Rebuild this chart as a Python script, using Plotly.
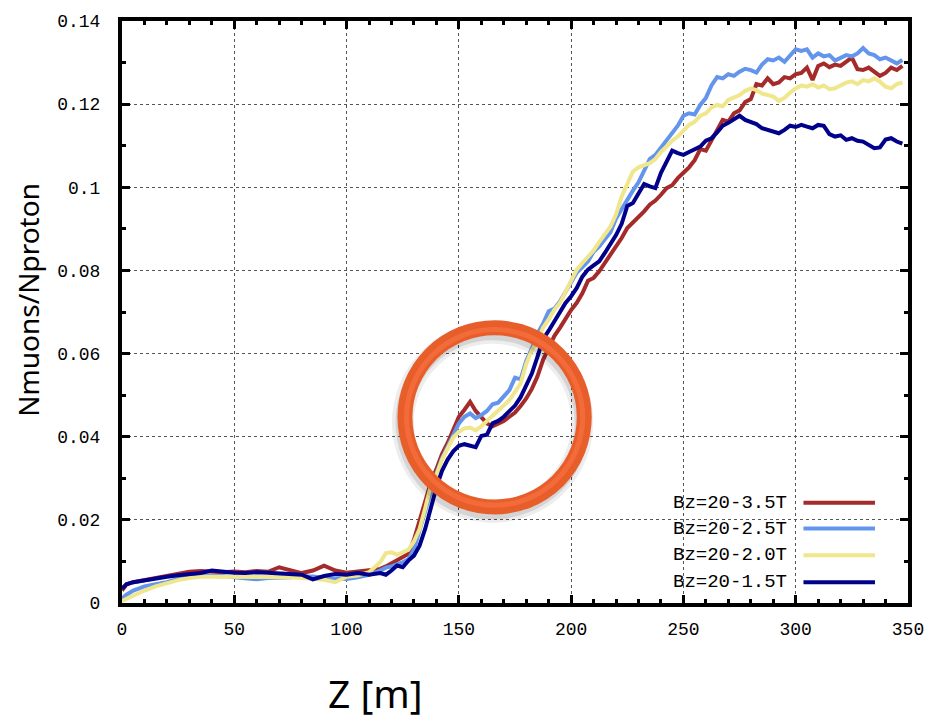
import plotly.graph_objects as go

# ---------------- data ----------------
Z_LOW = [0, 2, 5, 10, 15, 20, 25, 30, 35, 40, 45, 50, 55, 60, 65, 70, 75, 80, 85, 90,
         95, 100, 105, 110]
Z_HIGH = [115, 117.5, 120, 122.5, 125, 127.5, 130, 132.5, 135, 137.5,
          140, 142.5, 145, 147.5, 150, 152.5, 155, 157.5, 160, 162.5,
          165, 167.5, 170, 172.5, 175, 177.5, 180, 182.5, 185, 187.5,
          190, 192.5, 195, 197.5, 200, 202.5, 205, 207.5, 210, 212.5,
          215, 217.5, 220, 222.5, 225, 227.5, 230, 232.5, 235, 237.5,
          240, 242.5, 245, 247.5, 250, 252.5, 255, 257.5, 260, 262.5,
          265, 267.5, 270, 272.5, 275, 277.5, 280, 282.5, 285, 287.5,
          290, 292.5, 295, 297.5, 300, 302.5, 305, 307.5, 310, 312.5,
          315, 317.5, 320, 322.5, 325, 327.5, 330, 332.5, 335, 337.5,
          340, 342.5, 345, 347.5]
Z = Z_LOW + Z_HIGH

NAMES = ["Bz=20-3.5T", "Bz=20-2.5T", "Bz=20-2.0T", "Bz=20-1.5T"]
COLORS = ["#A52A2A", "#6495ED", "#F0E68C", "#00008B"]

B35 = [0.003, 0.0045, 0.005, 0.0055, 0.0058, 0.0063, 0.007, 0.0075, 0.0077, 0.0076,
       0.0074, 0.0076, 0.0074, 0.0077, 0.0075, 0.0086, 0.0078, 0.0072, 0.0078, 0.009,
       0.0078, 0.0073, 0.0076, 0.0079,
       0.0082, 0.0088, 0.0095, 0.0102, 0.011, 0.0118, 0.0152, 0.0198, 0.0248, 0.029,
       0.0322, 0.0358, 0.0385, 0.0415, 0.0448, 0.0465, 0.0484, 0.0462, 0.0448, 0.0432,
       0.0425, 0.0432, 0.0438, 0.0448, 0.0458, 0.0474, 0.0492, 0.0515, 0.0545, 0.0585,
       0.0612, 0.0642, 0.0662, 0.0685, 0.0705, 0.0722, 0.0745, 0.0775, 0.0782, 0.0798,
       0.0818, 0.0838, 0.0855, 0.0878, 0.0902, 0.0915, 0.0928, 0.0942, 0.0958, 0.0968,
       0.0982, 0.0998, 0.1005, 0.1022, 0.1035, 0.1048, 0.1065, 0.1092, 0.1088, 0.1112,
       0.1138, 0.1162, 0.1158, 0.1178, 0.1185, 0.1205, 0.1212, 0.1248, 0.1245, 0.1262,
       0.1248, 0.1252, 0.1265, 0.1262, 0.1272, 0.1275, 0.1288, 0.1258, 0.1292, 0.1298,
       0.1289, 0.1295, 0.1292, 0.1302, 0.1312, 0.1284, 0.1282, 0.1288, 0.1278, 0.1268,
       0.1275, 0.1288, 0.1282, 0.1292]

B25 = [0.001, 0.002, 0.003, 0.004, 0.0045, 0.005, 0.0058, 0.0063, 0.0065, 0.0066,
       0.0065, 0.0062, 0.006, 0.0057, 0.006, 0.006, 0.0062, 0.0064, 0.0064, 0.0061,
       0.006, 0.0058, 0.0062, 0.0068,
       0.0078, 0.0085, 0.0088, 0.0092, 0.0098, 0.0105, 0.0128, 0.0175, 0.0222, 0.0268,
       0.0312, 0.0348, 0.0375, 0.0402, 0.0432, 0.0448, 0.0456, 0.0445, 0.0452, 0.0462,
       0.0478, 0.0482, 0.0498, 0.0512, 0.0542, 0.0538, 0.0582, 0.0612, 0.0648, 0.0672,
       0.0702, 0.0708, 0.0725, 0.0748, 0.0772, 0.0795, 0.0808, 0.0822, 0.0845, 0.0858,
       0.0875, 0.0892, 0.0925, 0.0948, 0.0972, 0.0992, 0.1012, 0.1042, 0.1068, 0.1078,
       0.1095, 0.1112, 0.1128, 0.1148, 0.1172, 0.1178, 0.1175, 0.1198, 0.1215, 0.1245,
       0.1265, 0.1262, 0.1272, 0.1268, 0.1278, 0.1285, 0.1282, 0.1276, 0.1295, 0.1308,
       0.1305, 0.1312, 0.1302, 0.1318, 0.1332, 0.1328, 0.1332, 0.1312, 0.1322, 0.1315,
       0.1318, 0.1305, 0.1312, 0.1318, 0.1315, 0.1322, 0.1335, 0.1322, 0.1318, 0.1308,
       0.1312, 0.1305, 0.1298, 0.1306]

B20 = [0.0005, 0.001, 0.002, 0.003, 0.004, 0.0048, 0.0055, 0.006, 0.0063, 0.0063,
       0.0063, 0.0063, 0.0064, 0.0062, 0.0062, 0.0063, 0.0062, 0.006, 0.0058, 0.0056,
       0.005, 0.0063, 0.0066, 0.0074,
       0.0098, 0.012, 0.0122, 0.0116, 0.0122, 0.0128, 0.0148, 0.0178, 0.0228, 0.0282,
       0.0308, 0.0345, 0.0372, 0.0398, 0.0412, 0.042, 0.0422, 0.0415, 0.0425, 0.0438,
       0.0452, 0.0462, 0.0475, 0.0488, 0.0508, 0.0528, 0.0575, 0.0608, 0.0632, 0.0662,
       0.0682, 0.0705, 0.0722, 0.0748, 0.0775, 0.0802, 0.0818, 0.0832, 0.0848, 0.0868,
       0.0885, 0.0905, 0.0935, 0.0978, 0.1008, 0.1038, 0.1048, 0.1052, 0.1058, 0.1068,
       0.1085, 0.1098, 0.1112, 0.1122, 0.1135, 0.115, 0.1158, 0.1172, 0.1178, 0.1192,
       0.1198, 0.1195, 0.121, 0.1215, 0.1222, 0.1232, 0.1238, 0.1234, 0.1225, 0.1222,
       0.1218, 0.1208, 0.1215, 0.1228, 0.1238, 0.1245, 0.1242, 0.1248, 0.124, 0.1245,
       0.1236, 0.1238, 0.1245, 0.1252, 0.1255, 0.1248, 0.1258, 0.1255, 0.1262, 0.1254,
       0.1242, 0.1238, 0.1248, 0.1252]

B15 = [0.0035, 0.0045, 0.005, 0.0055, 0.006, 0.0063, 0.0067, 0.0069, 0.0072, 0.0078,
       0.0075, 0.0073, 0.0072, 0.0074, 0.0073, 0.0072, 0.007, 0.0068, 0.0057, 0.0065,
       0.007, 0.0068, 0.0072, 0.0068,
       0.0072, 0.0068, 0.0078, 0.009, 0.0086, 0.0102, 0.0114, 0.0138, 0.0178, 0.0232,
       0.0278, 0.0318, 0.0345, 0.0365, 0.0378, 0.0382, 0.0378, 0.0375, 0.0402, 0.0405,
       0.0432, 0.0438, 0.0448, 0.0462, 0.0475, 0.0495, 0.0525, 0.0552, 0.0592, 0.0635,
       0.0655, 0.0678, 0.0702, 0.0722, 0.0738, 0.0758, 0.0785, 0.0802, 0.0812, 0.0822,
       0.0842, 0.0862, 0.0885, 0.0912, 0.0955, 0.0962, 0.0985, 0.1008, 0.1002, 0.0998,
       0.1035, 0.1062, 0.1088, 0.1082, 0.1078, 0.1085, 0.1092, 0.1098, 0.1112, 0.1118,
       0.1132, 0.1148, 0.1155, 0.1165, 0.1172, 0.1162, 0.1158, 0.1152, 0.1142, 0.1138,
       0.1134, 0.113, 0.1138, 0.1148, 0.1145, 0.115, 0.1146, 0.1142, 0.115, 0.1148,
       0.1128, 0.1122, 0.1125, 0.1114, 0.1118, 0.1112, 0.111, 0.1102, 0.1094, 0.1096,
       0.1115, 0.1118, 0.111, 0.1105]

SERIES = [B35, B25, B20, B15]

X_TITLE = "Z [m]"
Y_TITLE = "Nmuons/Nproton"

# ---------------- figure ----------------
fig = go.Figure()
for name, col, vals in zip(NAMES, COLORS, SERIES):
    fig.add_trace(go.Scatter(x=Z, y=vals, mode="lines", name=name,
                             line=dict(color=col, width=4), showlegend=False))

tick_font = dict(family="Liberation Mono, Courier New, monospace", size=18, color="black")
axis_common = dict(
    showline=True, linewidth=4, linecolor="black", mirror="allticks",
    ticks="inside", ticklen=8, tickwidth=2.5, tickcolor="black",
    showgrid=True, gridcolor="#555555", griddash="dot", gridwidth=1,
    zeroline=False, tickfont=tick_font,
)
fig.update_xaxes(range=[0, 350], tickmode="linear", tick0=0, dtick=50,
                 minor=dict(tick0=0, dtick=10, ticks="inside", ticklen=4,
                            tickwidth=2.5, tickcolor="black", showgrid=False),
                 ticklabelstandoff=6, **axis_common)
fig.update_yaxes(range=[0, 0.14], tickmode="linear", tick0=0, dtick=0.02,
                 tickformat="~g",
                 minor=dict(tick0=0, dtick=0.01, ticks="inside", ticklen=4,
                            tickwidth=2.5, tickcolor="black", showgrid=False),
                 ticklabelstandoff=14, **axis_common)

shapes = []
# legend background box (hides grid)
shapes.append(dict(type="rect", xref="paper", yref="paper", x0=0.645, x1=0.98,
                   y0=0.006, y1=0.196, fillcolor="white", line=dict(width=0),
                   layer="between"))
# legend line samples
leg_y = [0.1724, 0.1280, 0.0819, 0.0358]
for col, yy in zip(COLORS, leg_y):
    shapes.append(dict(type="line", xref="paper", yref="paper", x0=0.867, x1=0.958,
                       y0=yy, y1=yy, line=dict(color=col, width=4), layer="above"))

# highlight ring with soft shadow
cx0, cx1, cy0, cy1 = 0.3600, 0.5881, 0.1650, 0.4730
dx, dy = -2 / 791, -5 / 586
shapes.append(dict(type="circle", xref="paper", yref="paper",
                   x0=cx0 + dx, x1=cx1 + dx, y0=cy0 + dy, y1=cy1 + dy,
                   line=dict(color="rgba(0,0,0,0.07)", width=22), layer="above"))
shapes.append(dict(type="circle", xref="paper", yref="paper",
                   x0=cx0 + dx, x1=cx1 + dx, y0=cy0 + dy, y1=cy1 + dy,
                   line=dict(color="rgba(0,0,0,0.10)", width=15), layer="above"))
shapes.append(dict(type="circle", xref="paper", yref="paper",
                   x0=cx0, x1=cx1, y0=cy0, y1=cy1,
                   line=dict(color="#E85E2B", width=15), layer="above"))
shapes.append(dict(type="circle", xref="paper", yref="paper",
                   x0=cx0 + 0.002, x1=cx1 - 0.002, y0=cy0 + 0.003, y1=cy1 - 0.003,
                   line=dict(color="rgba(255,125,75,0.45)", width=5), layer="above"))

annotations = []
for name, yy in zip(NAMES, leg_y):
    annotations.append(dict(xref="paper", yref="paper", x=0.8483, y=yy, text=name,
                            showarrow=False, xanchor="right", yanchor="middle",
                            font=dict(family="Liberation Mono, Courier New, monospace",
                                      size=19, color="black")))
annotations.append(dict(xref="paper", yref="paper", x=-0.1201, y=0.5205, text=Y_TITLE,
                        textangle=-90, showarrow=False, xanchor="center", yanchor="middle",
                        font=dict(family="Noto Sans, Open Sans, sans-serif", size=28,
                                  color="black")))
annotations.append(dict(xref="paper", yref="paper", x=0.3224, y=-0.1535, text=X_TITLE,
                        showarrow=False, xanchor="center", yanchor="middle",
                        font=dict(family="Noto Sans, Open Sans, sans-serif", size=39,
                                  color="black")))

fig.update_layout(
    width=936, height=721, autosize=False,
    margin=dict(l=122, r=23, t=17, b=118),
    paper_bgcolor="white", plot_bgcolor="white",
    shapes=shapes, annotations=annotations, showlegend=False,
)

fig.write_html("out.html")
